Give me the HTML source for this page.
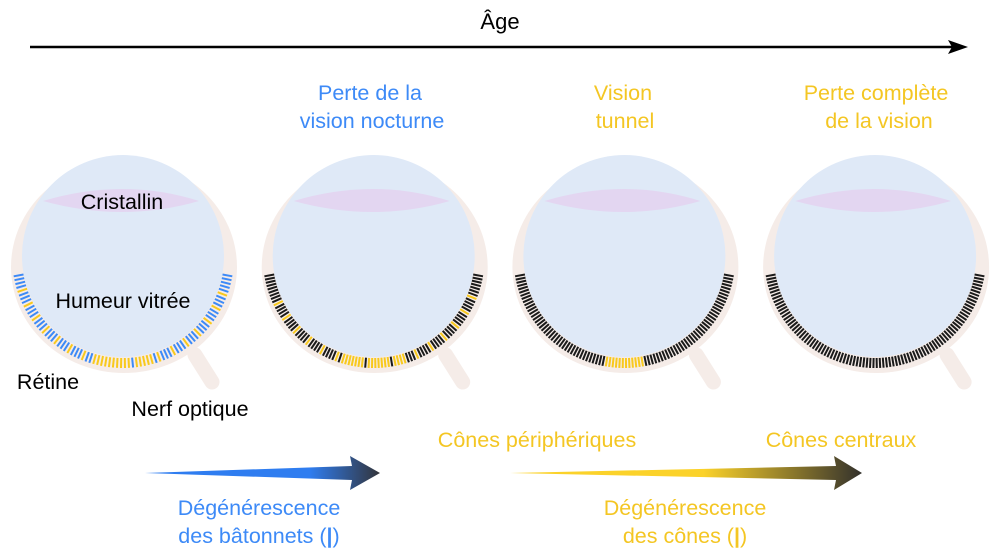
<!DOCTYPE html>
<html><head><meta charset="utf-8"><style>
html,body{margin:0;padding:0;background:#fff;}
svg{display:block;font-family:"Liberation Sans",sans-serif;}
</style></head><body>
<svg id="s" width="1000" height="558" viewBox="0 0 1000 558" xmlns="http://www.w3.org/2000/svg">
<defs>
<linearGradient id="gb" x1="145" y1="0" x2="380" y2="0" gradientUnits="userSpaceOnUse">
<stop offset="0" stop-color="#2f7df0"/><stop offset="0.7" stop-color="#2f7df0"/><stop offset="1" stop-color="#33343a"/></linearGradient>
<linearGradient id="gy" x1="510" y1="0" x2="862" y2="0" gradientUnits="userSpaceOnUse">
<stop offset="0" stop-color="#fbd22a"/><stop offset="0.55" stop-color="#fbd22a"/><stop offset="1" stop-color="#33312c"/></linearGradient>
</defs>
<line x1="30" y1="47" x2="955" y2="47" stroke="#000" stroke-width="2.5"/>
<polygon points="968,47 948,40 952,47 948,54" fill="#000"/>
<text x="500" y="29" font-size="22" text-anchor="middle">Âge</text>
<g id="eyes"></g>
<g font-size="21.5" text-anchor="middle">
<text x="122" y="209">Cristallin</text>
<text x="123" y="308">Humeur vitrée</text>
<text x="48" y="389">Rétine</text>
<text x="190" y="416">Nerf optique</text>
<g fill="#3d8af7"><text x="370" y="100">Perte de la</text><text x="372" y="128">vision nocturne</text>
<text x="259" y="515">Dégénérescence</text><text x="259" y="543">des bâtonnets (<tspan font-weight="bold">|</tspan>)</text></g>
<g fill="#f4c623"><text x="623" y="100">Vision</text><text x="625" y="128">tunnel</text>
<text x="876" y="100">Perte complète</text><text x="879" y="128">de la vision</text>
<text x="537" y="447">Cônes périphériques</text><text x="841" y="447">Cônes centraux</text>
<text x="685" y="515">Dégénérescence</text><text x="685" y="543">des cônes (<tspan font-weight="bold">|</tspan>)</text></g>
</g>
<polygon points="145,473 352,466 350,456 380,473 350,490 352,480" fill="url(#gb)"/>
<polygon points="510,473 836,466 834,456 862,473 834,490 836,480" fill="url(#gy)"/>
</svg>
<script>
var g=document.getElementById('eyes'),h='';
for(var i=0;i<4;i++){
 var cx=123+250.7*i,cy=257;
 h+='<ellipse cx="'+(cx+1)+'" cy="'+(cy+10)+'" rx="113" ry="106" fill="#f5ece8"/>';
 h+='<line x1="'+(cx+72)+'" y1="'+(cy+98)+'" x2="'+(cx+89)+'" y2="'+(cy+125)+'" stroke="#f5ece8" stroke-width="15" stroke-linecap="round"/>';
 h+='<circle cx="'+cx+'" cy="'+(cy-1)+'" r="101" fill="#dfe9f7"/>';
 h+='<path d="M'+(cx-80)+','+(cy-56)+' Q'+cx+','+(cy-80)+' '+(cx+76)+','+(cy-56)+' Q'+cx+','+(cy-34)+' '+(cx-80)+','+(cy-56)+'Z" fill="#e3d6f1"/>';
 var N=(i==0?78:92);
 for(var k=0;k<N;k++){
  var a=10+160*k/(N-1),d=Math.abs(a-90),r=Math.PI*a/180;
  var c;
  if(i==0){c='#3d8af7';if(d<17&&k%9!=0)c='#f8c91d';else if(d<75&&k%4==1)c='#f8c91d';}
  else if(i==1){c='#1a1a1a';if(d<17&&k%8!=0)c='#f8c91d';else if(d<70&&k%5==2)c='#f8c91d';}
  else if(i==2){c='#1a1a1a';if(d<11)c='#f8c91d';}
  else c='#1a1a1a';
  var x1=cx+Math.cos(r)*101,y1=cy+Math.sin(r)*101,x2=cx+Math.cos(r)*111,y2=cy+Math.sin(r)*111;
  h+='<line x1="'+x1.toFixed(1)+'" y1="'+y1.toFixed(1)+'" x2="'+x2.toFixed(1)+'" y2="'+y2.toFixed(1)+'" stroke="'+c+'" stroke-width="2"/>';
 }
}
g.innerHTML=h;
</script>
</body></html>
